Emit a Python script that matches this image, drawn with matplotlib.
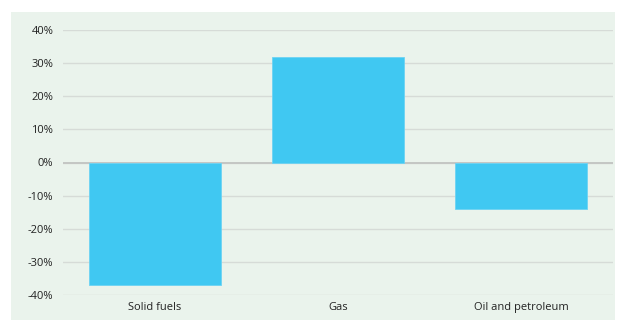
import matplotlib.pyplot as plt
from matplotlib.patches import Rectangle
import numpy as np

categories = ["Solid fuels", "Gas", "Oil and petroleum"]
changes = [-37.0, 32.0, -14.0]
yticks = [-40, -30, -20, -10, 0, 10, 20, 30, 40]

bg = "#eaf3ec"
bar_color = "#40c8f2"

fig = plt.figure(figsize=(6.18, 3.2), dpi=100)
fig.patch.set_facecolor("white")
fig.patches.append(Rectangle((11 / 618, 0), 604 / 618, 308 / 320,
                             transform=fig.transFigure, facecolor=bg,
                             edgecolor="none", zorder=-5))

ax = fig.add_axes([63 / 618, 25 / 320, 550 / 618, 265 / 320])
ax.set_facecolor(bg)

x = np.arange(len(categories))
ax.bar(x, changes, width=0.72, color=bar_color, edgecolor="#6dd3f3",
       linewidth=0.6, zorder=3)

ax.set_xlim(-0.5, len(categories) - 0.5)
ax.set_ylim(-40, 40)
ax.set_yticks(yticks)
ax.set_yticklabels([f"{t}%" for t in yticks])
ax.set_xticks(x)
ax.set_xticklabels(categories)

ax.grid(axis="y", color="#d6dbd7", linewidth=1.0, zorder=0)
ax.axhline(0, color="#c4c6c4", linewidth=1.4, zorder=2)
for s in ax.spines.values():
    s.set_visible(False)
ax.tick_params(axis="both", length=0, labelsize=8, colors="#222222")
ax.tick_params(axis="y", pad=7)
ax.tick_params(axis="x", pad=5)
for lbl in ax.get_xticklabels() + ax.get_yticklabels():
    lbl.set_fontfamily("Open Sans")

fig.savefig("out.png", dpi=100, facecolor=fig.get_facecolor())
